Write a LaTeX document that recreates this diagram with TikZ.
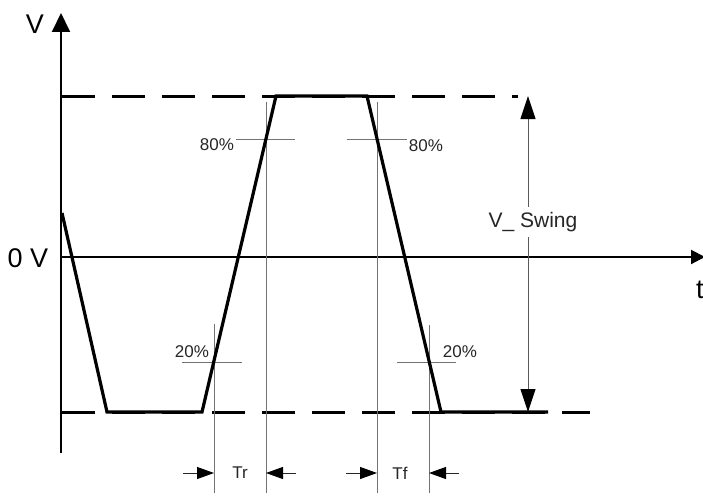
\documentclass[tikz,border=0pt]{standalone}
\usepackage{fontspec}
\setmainfont{Liberation Sans}
\usetikzlibrary{arrows.meta}
\begin{document}
\begin{tikzpicture}[x=1pt,y=-1pt,
  wave/.style={line width=3.2pt, line join=miter},
  dashline/.style={line width=3pt, dash pattern=on 33pt off 17pt},
  axis/.style={line width=2pt},
  guide/.style={line width=1pt, draw=black!55},
  small/.style={font=\fontsize{17}{17}\selectfont, text=black!85, inner sep=0pt},
  big/.style={font=\fontsize{27}{27}\selectfont, inner sep=0pt},
  dimarrow/.style={line width=1pt, draw=black!85, -{Triangle[length=17pt,width=12pt,color=black]}},
  swing/.style={line width=1pt, draw=black!65, {Triangle[length=23pt,width=15pt,color=black]}-{Triangle[length=23pt,width=15pt,color=black]}},
]
\useasboundingbox (0,0) rectangle (703,495);
\fill[white] (0,0) rectangle (703,495);

% coordinates
\coordinate (ybot) at (61,453);
\coordinate (ytop) at (61,13);
\coordinate (xl) at (61,257);
\coordinate (xr) at (705,257);
\coordinate (hiL) at (62,96);
\coordinate (hiR) at (518,96);
\coordinate (loL) at (62,412);
\coordinate (loR) at (590,412);

% dashed reference levels
\draw[dashline] (hiL) -- (hiR);
\draw[dashline] (loL) -- (loR);

% axes
\draw[axis,-{Triangle[length=19pt,width=18pt]}] (ybot) -- (ytop);
\draw[axis,-{Triangle[length=14pt,width=14pt]}] (xl) -- (xr);

% guide lines
\draw[guide] (214,324) -- (214,493);
\draw[guide] (266,102) -- (266,493);
\draw[guide] (377,102) -- (377,493);
\draw[guide] (429,325) -- (429,493);
\draw[guide] (236,139) -- (295,139);
\draw[guide] (347,139) -- (407,139);
\draw[guide] (182,362) -- (242,362);
\draw[guide] (397,362) -- (456,362);

% waveform
\draw[wave] (62,213) -- (107,412) -- (202,412) -- (276,96) -- (367,96) -- (441,412) -- (548,412);

% swing arrow
\coordinate (sw1) at (528,412);
\coordinate (sw2) at (528,96);
\draw[swing] (sw1) -- (sw2);
\node[fill=white, inner xsep=2pt, inner ysep=5pt, font=\fontsize{21}{21}\selectfont, text=black!85] (swl) at (533,222) {V\_ Swing};

% labels
\node[big] (vlab) at (35,24) {V};
\node[big] (zlab) at (28,258) {0 V};
\node[big, anchor=west] (tlab) at (696,290) {t};
\node[small] (p80a) at (217,145) {80\%};
\node[small] (p80b) at (426,146) {80\%};
\node[small] (p20a) at (192,352) {20\%};
\node[small] (p20b) at (460,352) {20\%};
\node[small] (tr) at (240,473) {Tr};
\node[small] (tf) at (400,473) {Tf};

% timing arrows
\coordinate (a1) at (183,473); \coordinate (a1t) at (214,473);
\coordinate (a2) at (296,473); \coordinate (a2t) at (266,473);
\coordinate (a3) at (346,473); \coordinate (a3t) at (377,473);
\coordinate (a4) at (459,473); \coordinate (a4t) at (429,473);
\draw[dimarrow] (a1) -- (a1t);
\draw[dimarrow] (a2) -- (a2t);
\draw[dimarrow] (a3) -- (a3t);
\draw[dimarrow] (a4) -- (a4t);
\end{tikzpicture}
\end{document}
